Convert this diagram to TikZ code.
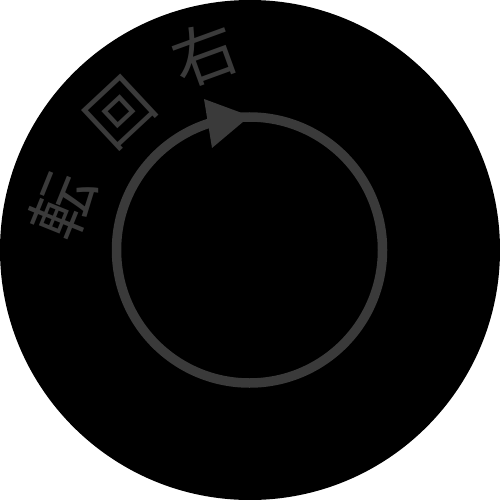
\documentclass[tikz,border=0pt]{standalone}
\usepackage{fontspec}
\newfontfamily\cjk{Noto Sans CJK JP}
\definecolor{ringgray}{RGB}{58,58,58}
\tikzset{
  glyph/.style={text=ringgray, font=\cjk\fontsize{64}{64}\selectfont, inner sep=0pt, anchor=center}
}
\begin{document}
\begin{tikzpicture}[x=1pt,y=-1pt]
\useasboundingbox (0,0) rectangle (500,500);
\fill[white] (0,0) rectangle (500,500);
\fill[black] (250,250) circle[radius=250];
\draw[ringgray, line width=9.5pt] (249.5,250) circle[radius=133];
\fill[ringgray] (250,116) -- (204,99) -- (212,148) -- cycle;
\node[glyph, rotate=68] (c1) at (62,206) {転};
\node[glyph, rotate=43] (c2) at (120,113) {回};
\node[glyph, rotate=20] (c3) at (204,54) {右};
\end{tikzpicture}
\end{document}
